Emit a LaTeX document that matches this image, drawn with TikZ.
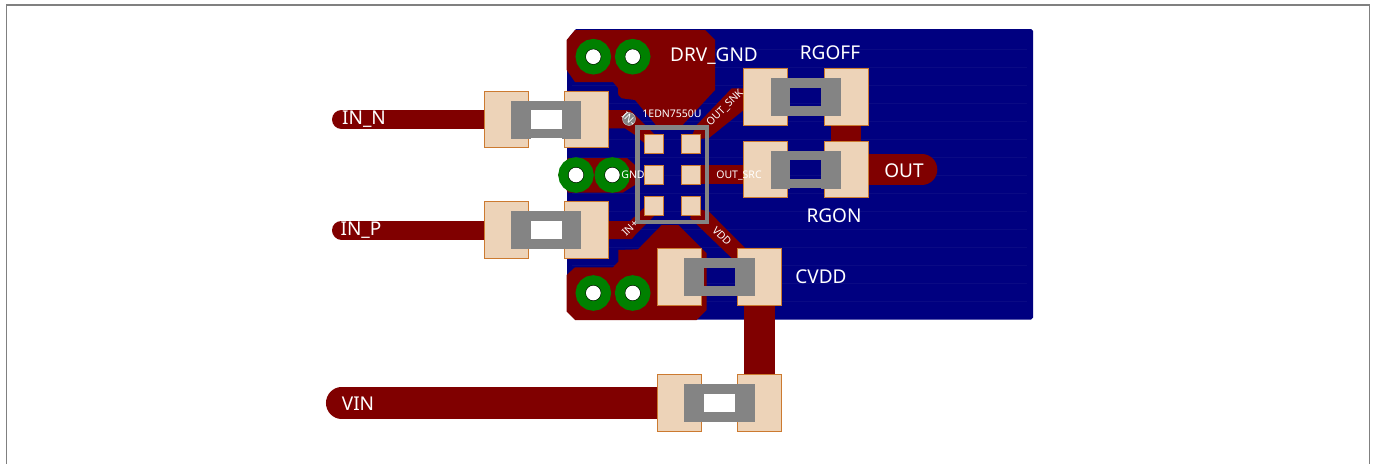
\documentclass[tikz,border=0pt]{standalone}
\usepackage{fontspec}
\setmainfont{Noto Sans}
\definecolor{copper}{HTML}{800000}
\definecolor{pour}{HTML}{000080}
\definecolor{gridblue}{HTML}{0A0A84}
\definecolor{viagreen}{HTML}{008000}
\definecolor{bodygray}{HTML}{848484}
\definecolor{padfill}{HTML}{EDD3B8}
\definecolor{padline}{HTML}{CC7A30}
\definecolor{framegray}{HTML}{808080}
\pgfdeclarelayer{board}
\pgfsetlayers{board,main}

\begin{document}
\begin{tikzpicture}[x=1pt,y=-1pt]
\tikzstyle{padbox}=[rectangle, draw=padline, fill=padfill, line width=0.8pt, minimum width=44pt, minimum height=56.4pt, inner sep=0pt]
\tikzstyle{bodybox}=[rectangle, draw=bodygray, line width=9.5pt, minimum width=40.5pt, minimum height=27.8pt, inner sep=0pt]
\tikzstyle{capbox}=[rectangle, fill=bodygray, minimum width=19.5pt, minimum height=38pt, inner sep=0pt]
\tikzstyle{icpad}=[rectangle, draw=padline, fill=padfill, line width=0.8pt, minimum width=19pt, minimum height=19pt, inner sep=0pt]
\tikzstyle{via}=[circle, draw=viagreen, fill=white, line width=10pt, minimum size=25.5pt, inner sep=0pt]
\tikzstyle{viahole}=[circle, draw=black, line width=0.4pt, minimum size=15.5pt, inner sep=0pt]
\tikzstyle{trace}=[draw=copper, line width=19pt]
\tikzstyle{label}=[text=white, font=\fontsize{19}{19}\selectfont, inner sep=0pt]
\tikzstyle{tiny}=[text=white, font=\fontsize{10.5}{10.5}\selectfont, inner sep=0pt]
\useasboundingbox (0,0) rectangle (1375,463);

% resistors and caps
\foreach \name/\cx/\cy in {rgoff/805.8/97, rgon/805.8/169.5, inn/546.3/119.5, inp/546.3/230, cvdd/719.5/277, vin/719.5/403} {
  \node[padbox] (\name-l) at (\cx-40.3,\cy) {};
  \node[padbox] (\name-r) at (\cx+40.3,\cy) {};
  \node[bodybox] (\name-body) at (\cx,\cy) {};
  \node[capbox] (\name-capl) at (\cx-25.3,\cy) {};
  \node[capbox] (\name-capr) at (\cx+25.3,\cy) {};
}
\coordinate (innend) at (341.5,119.5);
\coordinate (inpend) at (341.5,230);
\coordinate (vinend) at (341.6,403);
\coordinate (outend) at (921.8,169.5);

\begin{pgfonlayer}{board}
\node[draw=framegray, line width=1.8pt, minimum width=1363pt, minimum height=480pt, inner sep=0pt, anchor=north west] (frame) at (5.5,4) {};
% board with pour
\fill[pour] (567,40) -- (576,29) -- (1031,29) -- (1033,31) -- (1033,317.5) -- (1031,319.5) -- (576,319.5) -- (567,311) -- cycle;
\foreach \y in {49.3,67.3,...,302}
  \draw[gridblue, line width=0.7pt] (572,\y) -- (1027,\y);
% copper areas
\fill[copper] (566.7,40) -- (575,30) -- (705,30) -- (715,40) -- (715,90) -- (681.7,126) -- (656.7,126) -- (635,100) -- (621.7,98.3) -- (618.3,95) -- (618,88) -- (613,82) -- (575,82) -- (566.7,70) -- cycle;
\fill[copper] (566.7,275) -- (575,267.3) -- (613,267.3) -- (618.3,261.7) -- (618.3,250) -- (638,249.3) -- (661.7,225) -- (678.3,225) -- (706.7,253.3) -- (706.7,310) -- (696.7,320) -- (575,320) -- (566.7,311.7) -- cycle;
\fill[copper] (558,175) -- (568,158) -- (627,158) -- (635,165) -- (635,185) -- (623,192.5) -- (568,192.5) -- cycle;
\fill[copper] (600,110) -- (630,110) -- (655,135) -- (650,148) -- (635,135) -- (625,128.3) -- (600,128.3) -- cycle;
\fill[copper] (600,221) -- (630,221) -- (647,205) -- (655,215) -- (636,234) -- (632,239) -- (600,239) -- cycle;
\fill[copper] (731.7,88.3) -- (750,88.3) -- (750,105) -- (709,138) -- (690,140) -- (696.7,125) -- cycle;
\fill[copper] (695,165) rectangle (750,184);
\fill[copper] (695,208) -- (709,211.7) -- (752,255) -- (738,265) -- (731.7,258) -- (690,218) -- cycle;
% traces
\draw[trace, line cap=round] (innend) -- (inn-l);
\draw[trace, line cap=round] (inpend) -- (inp-l);
\draw[trace, line cap=round, line width=31.3pt] (vinend) -- (vin-l);
\draw[trace, line cap=round, line width=31pt] (outend) -- (rgon-r);
\draw[trace, line width=31.3pt] (vin-r) -- (cvdd-r);
\draw[trace, line width=30.7pt] (rgoff-r) -- (rgon-r);
\end{pgfonlayer}

% vias
\foreach \name/\cx/\cy in {va/593.3/56.7, vb/632.7/56.7, vc/576/175, vd/612.3/175, ve/593.3/293, vf/632.7/293} {
  \node[via] (\name) at (\cx,\cy) {};
  \node[viahole] (\name-hole) at (\cx,\cy) {};
}

% the driver
\foreach \name/\cx/\cy in {pa/653.7/143.7, pb/691/143.7, pc/653.7/174.7, pd/691/174.7, pe/653.7/205.7, pf/691/205.7}
  \node[icpad] (\name) at (\cx,\cy) {};
\node[rectangle, draw=bodygray, line width=4.5pt, minimum width=69.5pt, minimum height=94.3pt, inner sep=0pt] (ic) at (672.3,174.7) {};
\node[circle, fill=bodygray, draw=white!70!bodygray, line width=0.3pt, minimum size=13pt, inner sep=0pt] (dot) at (629,119) {};

% labels
\node[label] (drvgnd) at (714,56.5) {DRV\_GND};
\node[label] (rgofft) at (830,52.5) {RGOFF};
\node[label] (rgont) at (834,215.5) {RGON};
\node[label] (cvddt) at (821,276.5) {CVDD};
\node[label] (outt) at (904,170.5) {OUT};
\node[label] (vint) at (358,403.5) {VIN};
\node[label] (innt) at (364,119.5) {IN\_N};
\node[label] (inpt) at (361,230.5) {IN\_P};
\node[tiny] (ict) at (672,114) {1EDN7550U};
\node[tiny] (gndt) at (633,175) {GND};
\node[tiny] (srct) at (739,175) {OUT\_SRC};
\node[tiny, rotate=45] (snkt) at (725,108) {OUT\_SNK};
\node[tiny, rotate=45] (inpl) at (630,228) {IN+};
\node[tiny, rotate=-45] (innl) at (629,119) {IN-};
\node[tiny, rotate=-45] (vddt) at (722,236) {VDD};
\end{tikzpicture}
\end{document}
